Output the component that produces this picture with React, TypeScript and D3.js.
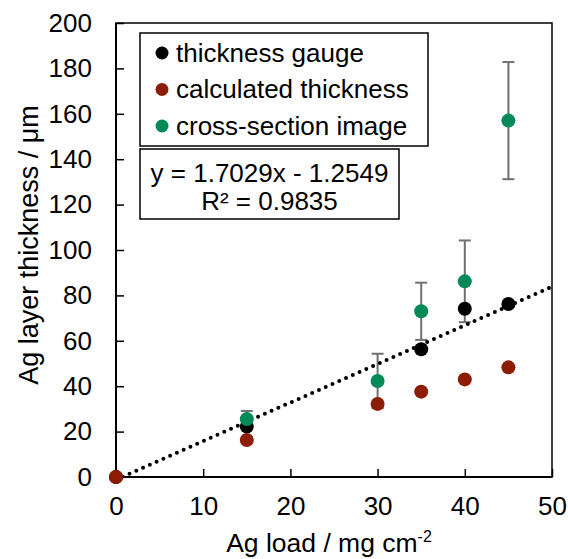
import React, { useRef, useEffect } from 'react';
import * as d3 from 'd3';

// Ag load (mg cm-2) / thickness (µm)
const gaugeLoads = [0, 15, 35, 40, 45];
const gaugeValues = [0, 22.2, 56.3, 74.1, 76.2];
const calcLoads = [0, 15, 30, 35, 40, 45];
const calcValues = [0, 16.3, 32.2, 37.6, 43.0, 48.3];
const imageLoads = [15, 30, 35, 40, 45];
const imageValues = [25.5, 42.3, 73.0, 86.2, 157.0];
const imageErrors = [3.6, 12.0, 12.6, 18.0, 25.8];

const seriesNames = ['thickness gauge', 'calculated thickness', 'cross-section image'];
const seriesColors = ['#000000', '#8c1c03', '#008a58'];

const trendSlope = 1.7029;
const trendIntercept = -1.2549;
const equationLines = ['y = 1.7029x - 1.2549', 'R² = 0.9835'];

const xTicks = [0, 10, 20, 30, 40, 50];
const yTicks = [0, 20, 40, 60, 80, 100, 120, 140, 160, 180, 200];

const FONT = '"Liberation Sans", Arial, sans-serif';

function ThicknessChart() {
    const ref = useRef<SVGSVGElement>(null);

    useEffect(() => {
        const W = 568, H = 559;
        const margin = {top: 23, right: 16, bottom: 82, left: 116};
        const width = W - margin.left - margin.right;
        const height = H - margin.top - margin.bottom;

        const root = d3.select(ref.current);
        root.selectAll('*').remove();
        root.attr('width', W).attr('height', H);

        const svg = root.append('g')
            .attr('transform', 'translate(' + margin.left + ',' + margin.top + ')')
            .style('font-family', FONT);

        const x = d3.scaleLinear().domain([0, 50]).range([0, width]);
        const y = d3.scaleLinear().domain([0, 200]).range([height, 0]);

        root.append('defs').append('clipPath').attr('id', 'plotclip')
            .append('rect').attr('width', width).attr('height', height);

        // frame
        svg.append('rect')
            .attr('width', width).attr('height', height)
            .attr('fill', 'none').attr('stroke', '#000').attr('stroke-width', 1.5);

        // axes with inward ticks
        const yAxis = svg.append('g')
            .call(d3.axisLeft(y).tickValues(yTicks).tickSize(-8).tickPadding(24).tickFormat(d3.format('d')));
        yAxis.select('.domain').attr('stroke-width', 2).attr('d', 'M0,0V' + height);
        yAxis.selectAll('line').attr('stroke-width', 1.5);
        yAxis.selectAll('text').style('font-size', '26px').style('font-family', FONT).attr('fill', '#000');

        const xAxis = svg.append('g')
            .attr('transform', 'translate(0,' + height + ')')
            .call(d3.axisBottom(x).tickValues(xTicks).tickSize(-8).tickPadding(20).tickFormat(d3.format('d')));
        xAxis.select('.domain').attr('stroke-width', 2).attr('d', 'M0,0H' + width);
        xAxis.selectAll('line').attr('stroke-width', 1.5);
        xAxis.selectAll('text').style('font-size', '26px').style('font-family', FONT).attr('fill', '#000');

        // axis titles
        const xt = svg.append('text')
            .attr('x', width / 2 - 5)
            .attr('y', height + 75)
            .attr('text-anchor', 'middle')
            .style('font-size', '26.5px');
        xt.append('tspan').text('Ag load / mg cm');
        xt.append('tspan').attr('dy', -10).style('font-size', '16px').text('-2');

        svg.append('text')
            .attr('transform', 'rotate(-90)')
            .attr('x', -222)
            .attr('y', -78)
            .attr('text-anchor', 'middle')
            .style('font-size', '27px')
            .text('Ag layer thickness / μm');

        const plot = svg.append('g').attr('clip-path', 'url(#plotclip)');

        // error bars for cross-section image
        const eb = plot.append('g').attr('stroke', '#707070').attr('stroke-width', 2);
        imageLoads.forEach(function(l, i) {
            const cx = x(l);
            const top = y(imageValues[i] + imageErrors[i]);
            const bot = y(imageValues[i] - imageErrors[i]);
            eb.append('line').attr('x1', cx).attr('x2', cx).attr('y1', top).attr('y2', bot);
            eb.append('line').attr('x1', cx - 6).attr('x2', cx + 6).attr('y1', top).attr('y2', top);
            eb.append('line').attr('x1', cx - 6).attr('x2', cx + 6).attr('y1', bot).attr('y2', bot);
        });

        const series = [
            {xs: gaugeLoads, ys: gaugeValues},
            {xs: calcLoads, ys: calcValues},
            {xs: imageLoads, ys: imageValues}
        ];
        series.forEach(function(s, k) {
            svg.append('g').selectAll('circle')
                .data(s.xs)
                .enter().append('circle')
                .attr('cx', function(d) { return x(d); })
                .attr('cy', function(d, i) { return y(s.ys[i]); })
                .attr('r', 7)
                .attr('fill', seriesColors[k]);
        });

        // linear trendline, dotted
        const line = d3.line<number>()
            .x(function(d) { return x(d); })
            .y(function(d) { return y(trendSlope * d + trendIntercept); });
        plot.append('path')
            .datum([0, 50])
            .attr('d', line)
            .attr('fill', 'none')
            .attr('stroke', '#000')
            .attr('stroke-width', 4)
            .attr('stroke-linecap', 'round')
            .attr('stroke-dasharray', '0,7.4');

        // legend
        const lg = svg.append('g').attr('transform', 'translate(' + (140 - margin.left) + ',' + (33 - margin.top) + ')');
        lg.append('rect').attr('width', 288).attr('height', 113)
            .attr('fill', '#fff').attr('stroke', '#000').attr('stroke-width', 1.5);
        seriesNames.forEach(function(name, i) {
            lg.append('circle').attr('cx', 22).attr('cy', 20 + i * 36.5).attr('r', 6.5).attr('fill', seriesColors[i]);
            lg.append('text').attr('x', 36).attr('y', 28.5 + i * 36.5)
                .style('font-size', '26px').text(name);
        });

        // equation box
        const eq = svg.append('g').attr('transform', 'translate(' + (140 - margin.left) + ',' + (149 - margin.top) + ')');
        eq.append('rect').attr('width', 259).attr('height', 70)
            .attr('fill', '#fff').attr('stroke', '#000').attr('stroke-width', 1.5);
        equationLines.forEach(function(t, i) {
            eq.append('text').attr('x', 129.5).attr('y', 33 + i * 28)
                .attr('text-anchor', 'middle')
                .style('font-size', '26px').text(t);
        });
    }, []);

    return <svg ref={ref} style={{position: 'absolute', left: 0, top: 0}} />;
}

export default function App() {
    return <ThicknessChart />;
}
